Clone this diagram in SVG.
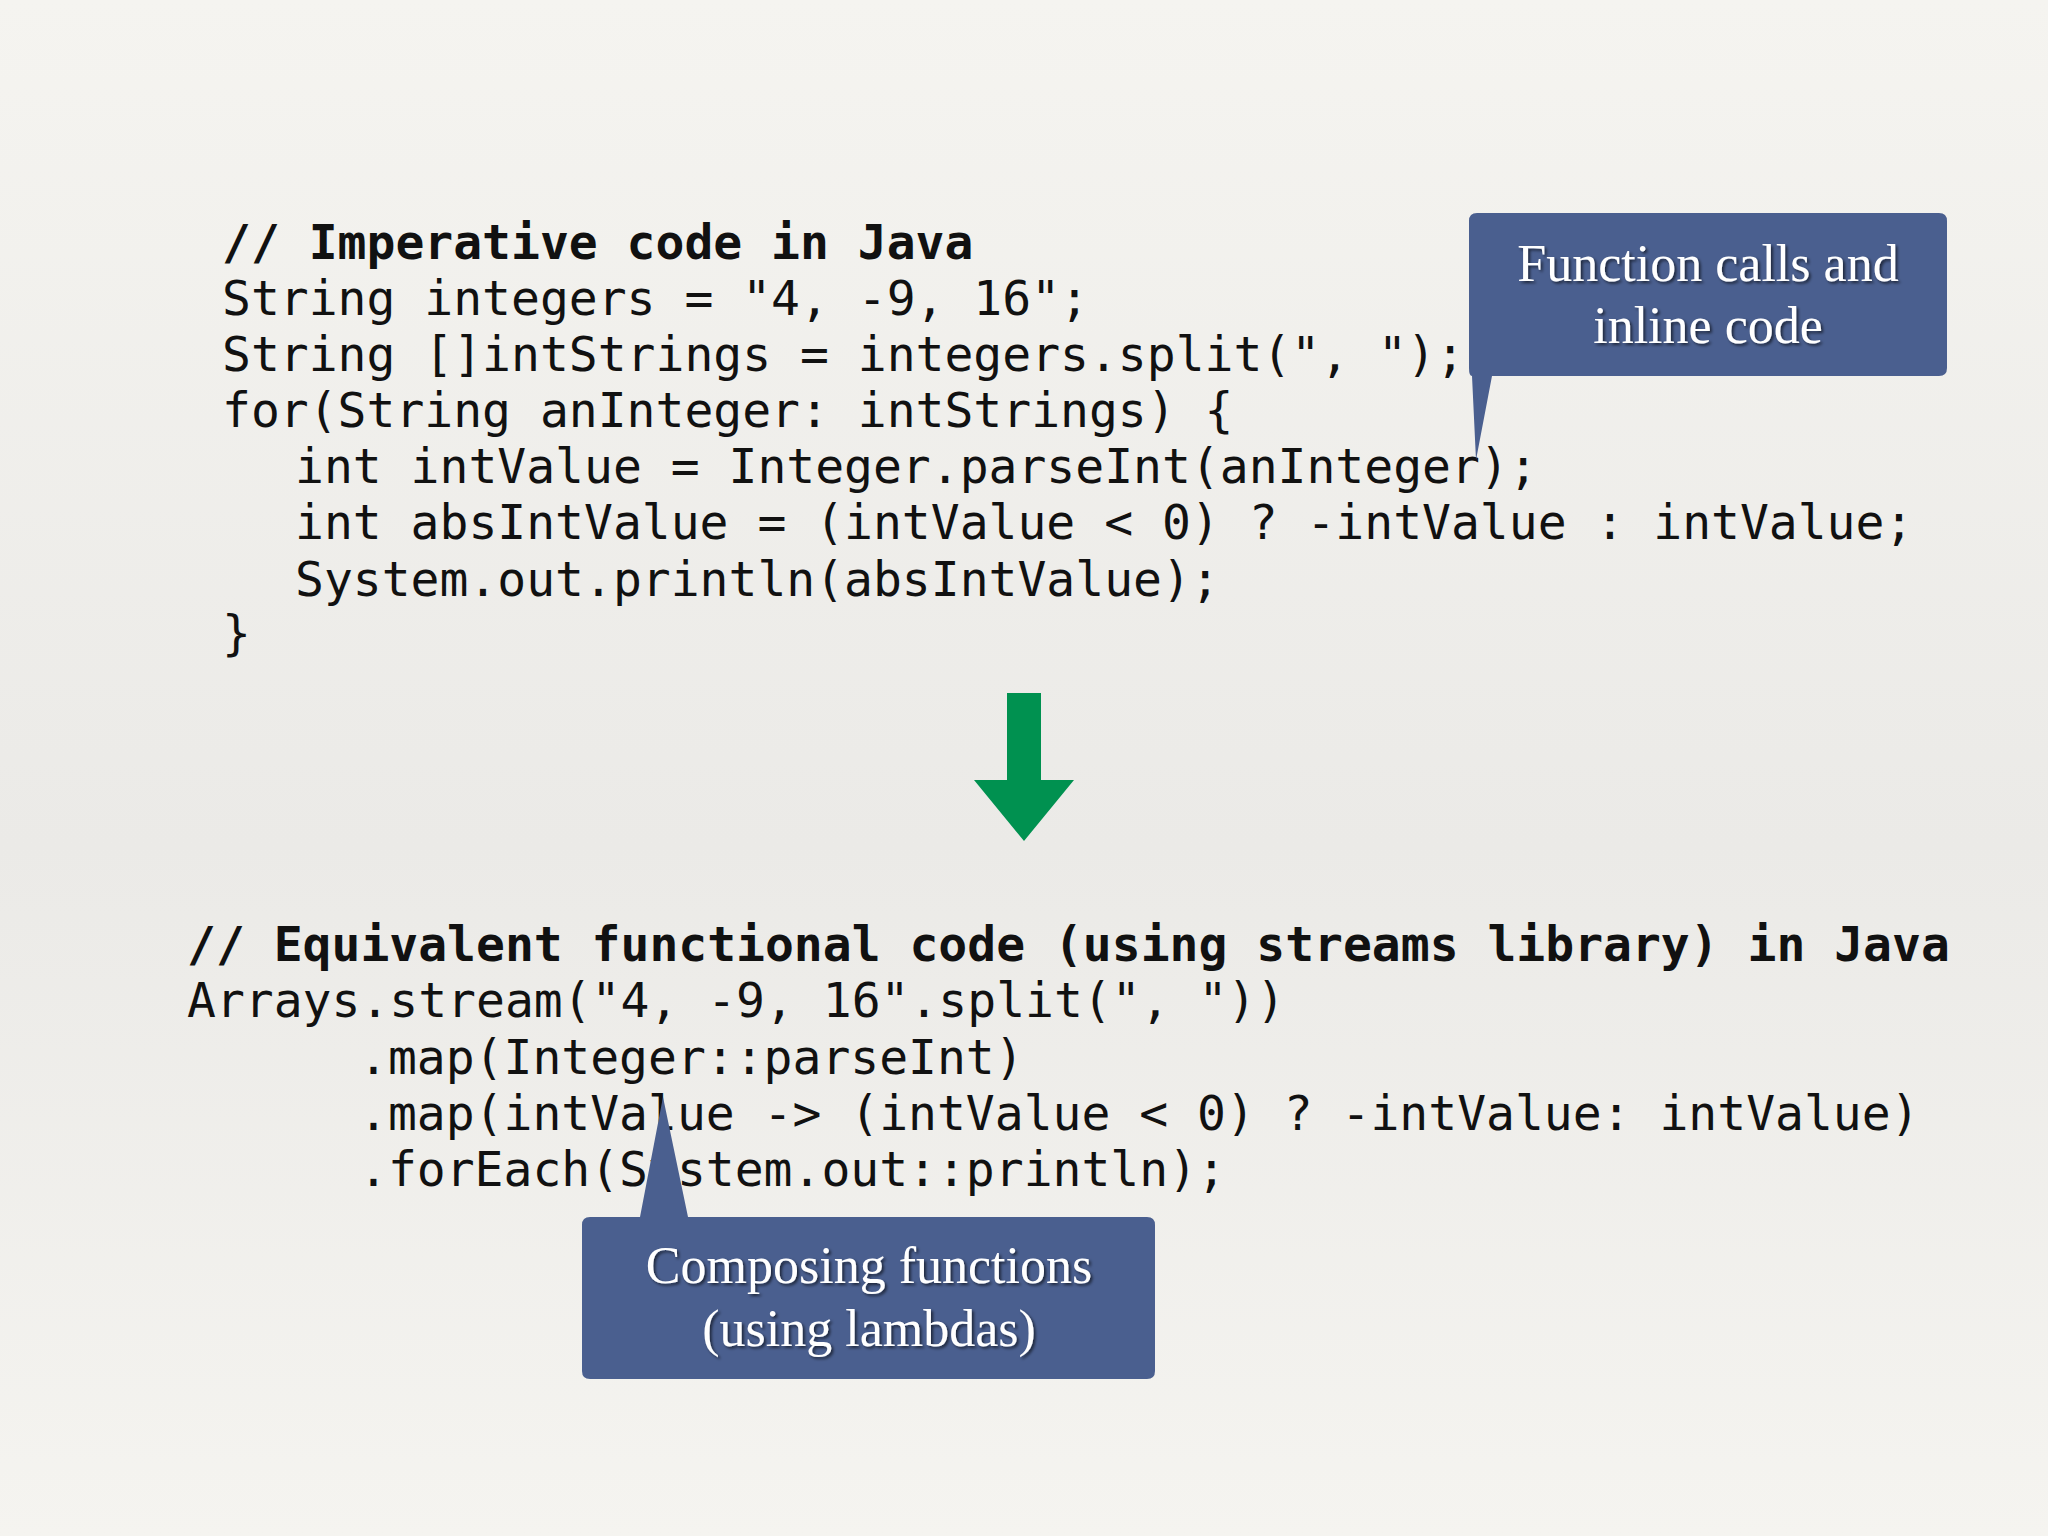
<svg xmlns="http://www.w3.org/2000/svg" width="2048" height="1536" viewBox="0 0 2048 1536">
<defs>
<linearGradient id="bg" x1="0" y1="0" x2="0" y2="1">
<stop offset="0" stop-color="#f5f4f0"/><stop offset="0.55" stop-color="#ebeae7"/><stop offset="1" stop-color="#f5f4f0"/>
</linearGradient>
<filter id="sh" x="-5%" y="-5%" width="110%" height="120%"><feDropShadow dx="2" dy="2" stdDeviation="1.5" flood-color="#000" flood-opacity="0.6"/></filter>
</defs>
<style>
.code{font-family:"DejaVu Sans Mono",monospace;font-size:48px;fill:#111}
.b{font-weight:bold}
.ct{font-family:"Liberation Serif",serif;font-size:52px;fill:#fff;text-anchor:middle}
.call{fill:#4a5f8f}
</style>
<rect width="2048" height="1536" fill="url(#bg)"/>
<g id="imperative" class="code" xml:space="preserve">
<text x="222" y="259" class="code b">// Imperative code in Java</text>
<text x="222" y="315" class="code">String integers = "4, -9, 16";</text>
<text x="222" y="371" class="code">String []intStrings = integers.split(", ");</text>
<text x="222" y="427" class="code">for(String anInteger: intStrings) {</text>
<text x="295" y="483" class="code">int intValue = Integer.parseInt(anInteger);</text>
<text x="295" y="539" class="code">int absIntValue = (intValue &lt; 0) ? -intValue : intValue;</text>
<text x="295" y="596" class="code">System.out.println(absIntValue);</text>
<text x="222" y="650" class="code">}</text>
</g>
<g id="functional">
<text x="187" y="961" class="code b">// Equivalent functional code (using streams library) in Java</text>
<text x="187" y="1017" class="code">Arrays.stream("4, -9, 16".split(", "))</text>
<text x="359" y="1074" class="code">.map(Integer::parseInt)</text>
<text x="359" y="1130" class="code">.map(intValue -&gt; (intValue &lt; 0) ? -intValue: intValue)</text>
<text x="359" y="1186" class="code">.forEach(System.out::println);</text>
</g>
<g id="connectors">
<polygon points="1007,693 1041,693 1041,780 1074,780 1024,841 974,780 1007,780" fill="#009150"/>
</g>
<g id="callout1">
<path class="call" d="M1477,213 H1939 Q1947,213 1947,221 V368 Q1947,376 1939,376 H1492 L1476,460 L1472,376 Q1469,376 1469,368 V221 Q1469,213 1477,213 Z"/>
<text x="1708" y="281" class="ct" filter="url(#sh)">Function calls and</text>
<text x="1708" y="343" class="ct" filter="url(#sh)">inline code</text>
</g>
<g id="callout2">
<path class="call" d="M590,1217 H640 L663,1097 L688,1217 H1147 Q1155,1217 1155,1225 V1371 Q1155,1379 1147,1379 H590 Q582,1379 582,1371 V1225 Q582,1217 590,1217 Z"/>
<text x="869" y="1283" class="ct" filter="url(#sh)">Composing functions</text>
<text x="869" y="1346" class="ct" filter="url(#sh)">(using lambdas)</text>
</g>
</svg>
